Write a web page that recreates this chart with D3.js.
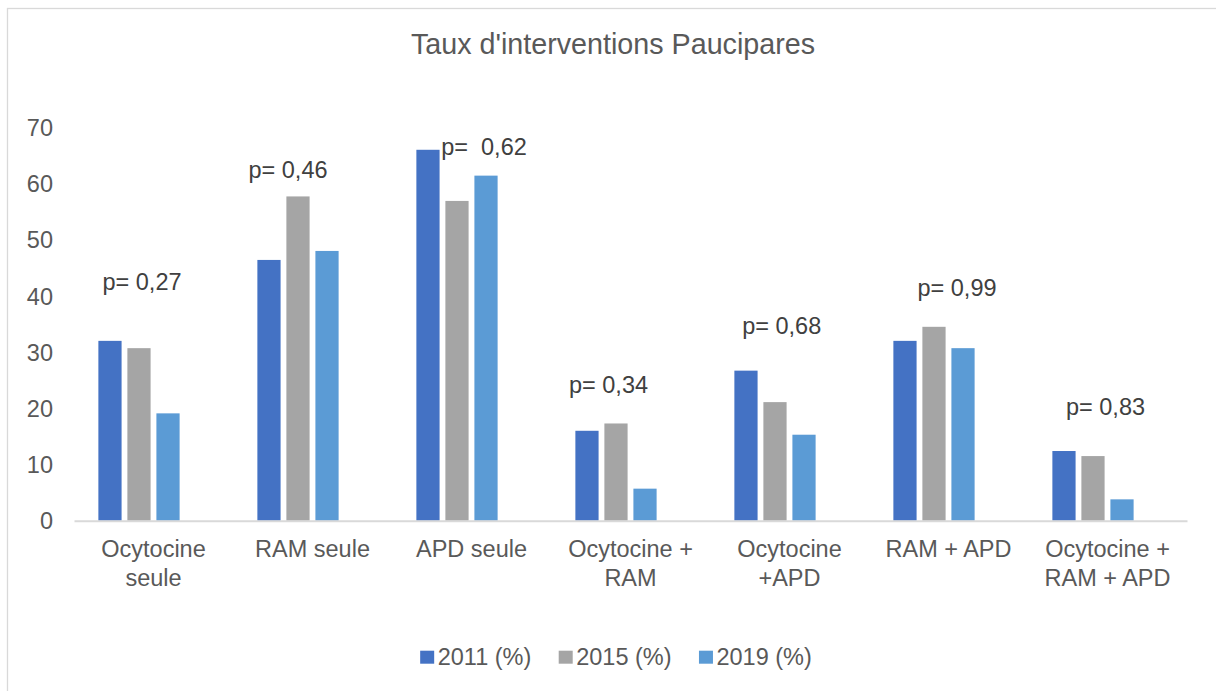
<!DOCTYPE html>
<html>
<head>
<meta charset="utf-8">
<script src="https://cdn.jsdelivr.net/npm/d3@7"></script>
<style>
  html, body { margin: 0; padding: 0; background: #fff; }
  svg { display: block; font-family: "Liberation Sans", Arial, sans-serif; }
  text { white-space: pre; }
</style>
</head>
<body>
<svg id="chart" width="1216" height="691"></svg>
<script>
// ---- data ----
const title = "Taux d'interventions Paucipares";
const categories = ["Ocytocine seule", "RAM seule", "APD seule", "Ocytocine + RAM",
                    "Ocytocine +APD", "RAM + APD", "Ocytocine + RAM + APD"];
const seriesNames = ["2011 (%)", "2015 (%)", "2019 (%)"];
const values2011 = [32.0, 46.4, 66.0, 16.0, 26.7, 32.0, 12.4];
const values2015 = [30.7, 57.7, 56.9, 17.3, 21.1, 34.5, 11.5];
const values2019 = [19.1, 48.0, 61.4, 5.7, 15.3, 30.7, 3.8];
const pLabels = ["p= 0,27", "p= 0,46", "p=  0,62", "p= 0,34", "p= 0,68", "p= 0,99", "p= 0,83"];
const yTicks = [0, 10, 20, 30, 40, 50, 60, 70];

// ---- layout (not data) ----
const colors = ["#4472C4", "#A5A5A5", "#5B9BD5"];
const pLabelLayout = [ // [x offset from category centre (px), baseline y in axis units]
  [-11.5, 41.05], [-24.5, 60.9], [12.5, 65.0], [-22, 22.7], [-7.8, 33.3], [8.5, 39.9], [-2, 18.8]
];
const textColor = "#595959";
const fontSize = 23.5;

const svg = d3.select("#chart");

// outer border (chart area frame)
svg.append("rect")
  .attr("x", 7.5).attr("y", 8.5).attr("width", 1230).attr("height", 700)
  .attr("fill", "none").attr("stroke", "#D9D9D9").attr("stroke-width", 1.3);

const plot = { left: 74, right: 1187, top: 127.3, bottom: 520.7 };

const x0 = d3.scaleBand().domain(categories).range([plot.left, plot.right]).padding(0);
// four slots per category (the fourth slot is an empty series in the original)
const x1 = d3.scaleBand().domain([0, 1, 2, 3]).range([0, x0.bandwidth()])
  .paddingInner(0.2).paddingOuter(0.84);
const y = d3.scaleLinear().domain([0, 70]).range([plot.bottom, plot.top]);

// title
svg.append("text")
  .attr("x", 613).attr("y", 54)
  .attr("text-anchor", "middle")
  .attr("font-size", 28.7).attr("fill", textColor)
  .text(title);

// y axis (labels only)
const yAxis = d3.axisLeft(y).tickValues(yTicks).tickSize(0).tickPadding(0).tickFormat(d3.format("d"));
const yg = svg.append("g").attr("transform", `translate(${53},0)`).call(yAxis);
yg.select(".domain").remove();
yg.selectAll("text").attr("font-size", fontSize).attr("fill", textColor)
  .attr("font-family", "Liberation Sans, Arial, sans-serif").attr("dy", "0.35em");

// bars
const seriesValues = [values2011, values2015, values2019];
const groups = svg.append("g").selectAll("g")
  .data(categories).join("g")
  .attr("transform", d => `translate(${x0(d)},0)`);

groups.selectAll("rect")
  .data((d, i) => seriesValues.map((vals, s) => ({ s, v: vals[i] })))
  .join("rect")
  .attr("x", d => x1(d.s))
  .attr("y", d => y(d.v))
  .attr("width", x1.bandwidth())
  .attr("height", d => y(0) - y(d.v))
  .attr("fill", d => colors[d.s]);

// baseline
const xAxis = d3.axisBottom(x0).tickSize(0).tickFormat("");
const xg = svg.append("g").attr("transform", `translate(0,${y(0)})`).call(xAxis);
xg.select(".domain").attr("stroke", "#D9D9D9").attr("stroke-width", 2);
xg.selectAll(".tick").remove();

// category labels with wrapping
const labelG = svg.append("g");
categories.forEach(cat => {
  const cx = x0(cat) + x0.bandwidth() / 2;
  const t = labelG.append("text")
    .attr("text-anchor", "middle").attr("font-size", fontSize).attr("fill", textColor);
  const words = cat.split(" ");
  const lines = [];
  let line = [];
  const probe = labelG.append("text").attr("font-size", fontSize);
  words.forEach(w => {
    const test = line.concat([w]).join(" ");
    probe.text(test);
    if (probe.node().getComputedTextLength() > x0.bandwidth() && line.length) {
      lines.push(line.join(" "));
      line = [w];
    } else {
      line.push(w);
    }
  });
  lines.push(line.join(" "));
  probe.remove();
  lines.forEach((l, i) => {
    t.append("tspan").attr("x", cx).attr("y", 557.4 + i * 28.2).text(l);
  });
});

// p-value annotations
svg.append("g").selectAll("text")
  .data(pLabels).join("text")
  .attr("x", (d, i) => x0(categories[i]) + x0.bandwidth() / 2 + pLabelLayout[i][0])
  .attr("y", (d, i) => y(pLabelLayout[i][1]))
  .attr("text-anchor", "middle")
  .attr("font-size", fontSize).attr("fill", "#404040")
  .text(d => d);

// legend
const legend = svg.append("g");
const items = legend.selectAll("g").data(seriesNames).join("g");
items.append("rect").attr("width", 14).attr("height", 13).attr("y", 650.7)
  .attr("fill", (d, i) => colors[i]);
items.append("text").attr("x", 17.5).attr("y", 665)
  .attr("font-size", fontSize).attr("fill", textColor).text(d => d);
let widths = [];
items.each(function () { widths.push(this.querySelector("text").getComputedTextLength() + 17.5); });
const gap = 27.4;
const total = d3.sum(widths) + gap * (widths.length - 1);
let cursor = 616 - total / 2;
items.each(function (d, i) {
  d3.select(this).attr("transform", `translate(${cursor},0)`);
  cursor += widths[i] + gap;
});
</script>
</body>
</html>
